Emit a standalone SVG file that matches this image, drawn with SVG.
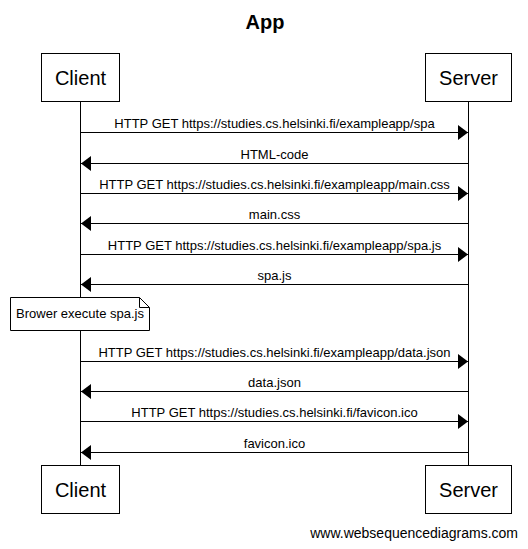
<svg xmlns="http://www.w3.org/2000/svg" width="528" height="549" viewBox="0 0 528 549">
<style>
text{font-family:"Liberation Sans",Arial,sans-serif;fill:#000}
.box{fill:#fff;stroke:#000;stroke-width:1}
.actor{font-size:20px;text-anchor:middle}
.lbl{font-size:13px;text-anchor:middle}
.msg{stroke:#000;stroke-width:1;fill:none}
.life{stroke:#000;stroke-width:1}
</style>
<defs>
<marker id="ah" markerWidth="10" markerHeight="16" refX="10" refY="8" orient="auto" markerUnits="userSpaceOnUse">
<path d="M0,0.5 L10,8 L0,15.5 Z" fill="#000"/>
</marker>
</defs>
<rect width="528" height="549" fill="#fff"/>
<text x="265" y="29" font-size="20" font-weight="bold" text-anchor="middle">App</text>
<g id="lifelines">
<line class="life" x1="80.5" y1="101" x2="80.5" y2="465"/>
<line class="life" x1="468.5" y1="101" x2="468.5" y2="465"/>
</g>
<g id="client-top"><rect class="box" x="41.5" y="53.5" width="78" height="48"/><text class="actor" x="80.5" y="85">Client</text></g>
<g id="server-top"><rect class="box" x="425.5" y="53.5" width="86" height="48"/><text class="actor" x="468.5" y="85">Server</text></g>
<g id="client-bottom"><rect class="box" x="41.5" y="465.5" width="78" height="48"/><text class="actor" x="80.5" y="497">Client</text></g>
<g id="server-bottom"><rect class="box" x="425.5" y="465.5" width="86" height="48"/><text class="actor" x="468.5" y="497">Server</text></g>
<g id="connectors">
<line class="msg" x1="80.5" y1="132.5" x2="468" y2="132.5" marker-end="url(#ah)"/>
<text class="lbl" x="274.5" y="128">HTTP GET https://studies.cs.helsinki.fi/exampleapp/spa</text>
<line class="msg" x1="468.5" y1="163.5" x2="81" y2="163.5" marker-end="url(#ah)"/>
<text class="lbl" x="274.5" y="159">HTML-code</text>
<line class="msg" x1="80.5" y1="193.5" x2="468" y2="193.5" marker-end="url(#ah)"/>
<text class="lbl" x="274.5" y="189">HTTP GET https://studies.cs.helsinki.fi/exampleapp/main.css</text>
<line class="msg" x1="468.5" y1="223.5" x2="81" y2="223.5" marker-end="url(#ah)"/>
<text class="lbl" x="274.5" y="219">main.css</text>
<line class="msg" x1="80.5" y1="254.5" x2="468" y2="254.5" marker-end="url(#ah)"/>
<text class="lbl" x="274.5" y="250">HTTP GET https://studies.cs.helsinki.fi/exampleapp/spa.js</text>
<line class="msg" x1="468.5" y1="284.5" x2="81" y2="284.5" marker-end="url(#ah)"/>
<text class="lbl" x="274.5" y="280">spa.js</text>
<line class="msg" x1="80.5" y1="361.5" x2="468" y2="361.5" marker-end="url(#ah)"/>
<text class="lbl" x="274.5" y="357">HTTP GET https://studies.cs.helsinki.fi/exampleapp/data.json</text>
<line class="msg" x1="468.5" y1="391.5" x2="81" y2="391.5" marker-end="url(#ah)"/>
<text class="lbl" x="274.5" y="387">data.json</text>
<line class="msg" x1="80.5" y1="421.5" x2="468" y2="421.5" marker-end="url(#ah)"/>
<text class="lbl" x="274.5" y="417">HTTP GET https://studies.cs.helsinki.fi/favicon.ico</text>
<line class="msg" x1="468.5" y1="452.5" x2="81" y2="452.5" marker-end="url(#ah)"/>
<text class="lbl" x="274.5" y="448">favicon.ico</text>
</g>
<g id="note">
<path class="box" d="M10.5,297.5 H139.5 L149.5,307.5 V330.5 H10.5 Z"/>
<path d="M139.5,297.5 V307.5 H149.5" fill="none" stroke="#000"/>
<text class="lbl" x="80" y="318">Brower execute spa.js</text>
</g>
<text x="518" y="538" font-size="14" text-anchor="end">www.websequencediagrams.com</text>
</svg>
